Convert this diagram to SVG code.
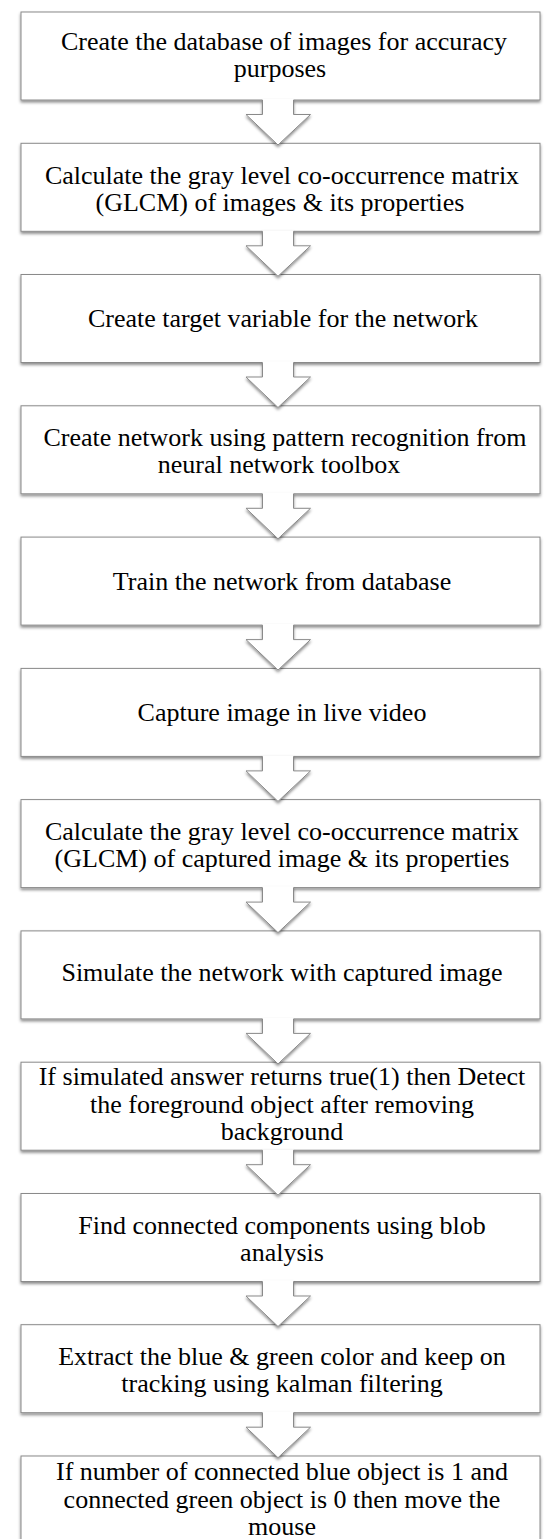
<svg xmlns="http://www.w3.org/2000/svg" width="544" height="1539" viewBox="0 0 544 1539">
  <defs>
    <filter id="shadow" x="-5%" y="-20%" width="110%" height="150%">
      <feDropShadow dx="0" dy="2" stdDeviation="1.4" flood-color="#000" flood-opacity="0.45"/>
    </filter>
    <!-- block arrow pointing down, drawn relative to the bottom edge of a step box -->
    <g id="downArrow">
      <path d="M262.5,-1 V14.5 H246 L278,45 L310.5,14.5 H293.5 V-1 Z" fill="#fff" stroke="none"/>
      <path d="M262.5,0 V14.5 H246 L278,45 L310.5,14.5 H293.5 V0" fill="none" stroke="#8a8a8a" stroke-width="1"/>
    </g>
  </defs>
  <style>
    .box { fill: #fff; stroke: #8a8a8a; stroke-width: 1; filter: url(#shadow); }
    .lbl { font-family: "Liberation Serif", "Times New Roman", serif; font-size: 26px; fill: #000; text-anchor: middle; }
    .arrow { filter: url(#shadow); }
  </style>
  <rect width="544" height="1539" fill="#fff"/>

  <g id="step1">
    <rect class="box" x="21" y="12" width="519" height="88"/>
    <text class="lbl" x="284" y="50">Create the database of images  for accuracy</text>
    <text class="lbl" x="280" y="77">purposes</text>
  </g>
  <g id="step2">
    <rect class="box" x="21" y="143.3" width="519" height="88"/>
    <text class="lbl" x="282" y="183.5">Calculate the gray level co-occurrence matrix</text>
    <text class="lbl" x="280" y="210.5">(GLCM) of images &amp; its properties</text>
  </g>
  <g id="step3">
    <rect class="box" x="21" y="274.5" width="519" height="88"/>
    <text class="lbl" x="283" y="327">Create target variable for the network</text>
  </g>
  <g id="step4">
    <rect class="box" x="21" y="405.8" width="519" height="88"/>
    <text class="lbl" x="285" y="445.5">Create network using pattern recognition from</text>
    <text class="lbl" x="279" y="472.5">neural network toolbox</text>
  </g>
  <g id="step5">
    <rect class="box" x="21" y="537.1" width="519" height="88"/>
    <text class="lbl" x="282" y="589.5">Train the network from database</text>
  </g>
  <g id="step6">
    <rect class="box" x="21" y="668.4" width="519" height="88"/>
    <text class="lbl" x="282" y="720.8">Capture image in live video</text>
  </g>
  <g id="step7">
    <rect class="box" x="21" y="799.6" width="519" height="88"/>
    <text class="lbl" x="282" y="839.5">Calculate the gray level co-occurrence matrix</text>
    <text class="lbl" x="282" y="866.5">(GLCM) of captured image &amp; its properties</text>
  </g>
  <g id="step8">
    <rect class="box" x="21" y="930.9" width="519" height="88"/>
    <text class="lbl" x="282" y="981">Simulate the network with captured image</text>
  </g>
  <g id="step9">
    <rect class="box" x="21" y="1062.2" width="519" height="88"/>
    <text class="lbl" x="282" y="1085">If simulated answer returns true(1) then Detect</text>
    <text class="lbl" x="282" y="1112.5">the foreground object after removing</text>
    <text class="lbl" x="282" y="1140">background</text>
  </g>
  <g id="step10">
    <rect class="box" x="21" y="1193.5" width="519" height="88"/>
    <text class="lbl" x="282" y="1233.5">Find connected components using blob</text>
    <text class="lbl" x="282" y="1260.5">analysis</text>
  </g>
  <g id="step11">
    <rect class="box" x="21" y="1324.7" width="519" height="88"/>
    <text class="lbl" x="282" y="1364.5">Extract the blue &amp; green color and keep on</text>
    <text class="lbl" x="282" y="1391.5">tracking using kalman filtering</text>
  </g>
  <g id="step12">
    <rect class="box" x="21" y="1456" width="519" height="100"/>
    <text class="lbl" x="282" y="1480">If number of connected blue object is 1 and</text>
    <text class="lbl" x="282" y="1507.5">connected green object is 0 then move the</text>
    <text class="lbl" x="282" y="1535">mouse</text>
  </g>

  <!-- flow arrows between consecutive steps -->
  <g id="connectors" class="arrow">
    <use href="#downArrow" transform="translate(0,100)"/>
    <use href="#downArrow" transform="translate(0,231.3)"/>
    <use href="#downArrow" transform="translate(0,362.5)"/>
    <use href="#downArrow" transform="translate(0,493.8)"/>
    <use href="#downArrow" transform="translate(0,625.1)"/>
    <use href="#downArrow" transform="translate(0,756.4)"/>
    <use href="#downArrow" transform="translate(0,887.6)"/>
    <use href="#downArrow" transform="translate(0,1018.9)"/>
    <use href="#downArrow" transform="translate(0,1150.2)"/>
    <use href="#downArrow" transform="translate(0,1281.5)"/>
    <use href="#downArrow" transform="translate(0,1412.7)"/>
  </g>
</svg>
